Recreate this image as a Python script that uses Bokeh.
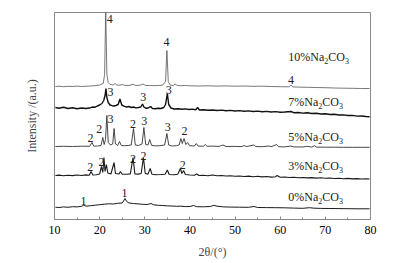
from bokeh.plotting import figure
from bokeh.models import (ColumnDataSource, Label, Range1d, SingleIntervalTicker,
                          FixedTicker)
from bokeh.core.properties import value
from bokeh.embed import file_html
from bokeh.resources import INLINE

# ---------------- data (2theta in degrees, stacked intensity in a.u.) -------------
tt_10 = [10.2, 11, 12, 13, 14, 15, 16, 17, 18, 19, 20, 20.8, 21.1, 21.35, 21.6, 21.9, 22.3,
         23.0, 23.4, 23.8, 24.5, 25, 25.5, 26.5, 27.4, 28, 29, 29.6, 30.2, 31, 32, 33, 34,
         34.6, 34.9, 35.2, 35.6, 36.3, 36.7, 37.2, 38, 39, 40, 42, 44, 46, 48, 50, 52, 54,
         56, 58, 60, 62, 62.4, 62.8, 64, 66, 68, 70, 72, 74, 76, 78, 79.8]
int_10 = [133, 133.3, 132.8, 133.2, 133, 133.4, 133, 133.3, 133.5, 133.8, 134.5, 136, 145, 210,
          145, 137, 135, 134.5, 136, 134.5, 134.3, 135, 134.2, 134, 135.2, 134, 134.3, 135.5,
          134, 134, 133.8, 134, 134.5, 138, 169, 138, 134.5, 134, 135.5, 134, 133.8, 134,
          133.7, 133.5, 133.7, 133.4, 133.6, 133.3, 133.5, 133.2, 133.3, 133.0, 132.8, 132.7,
          134.5, 132.6, 132.4, 132.2, 132, 131.8, 131.5, 131.3, 131.2, 131, 131]

tt_7 = [10.2, 11, 12, 13, 14, 15, 16, 17, 18, 18.5, 19, 19.5, 20, 20.5, 20.9, 21.2, 21.4, 21.6,
        21.9, 22.3, 22.8, 23.2, 23.6, 24.1, 24.5, 24.9, 25.5, 26, 26.5, 27, 27.5, 28, 28.6,
        29.1, 29.5, 29.8, 30.3, 30.9, 31.3, 31.7, 32.3, 33, 33.6, 34.2, 34.6, 35.0, 35.3,
        35.8, 36.5, 37.5, 38.3, 39, 39.8, 40.5, 41.3, 41.7, 42.1, 43, 44, 45, 46, 47, 48, 49,
        50, 51, 52, 53, 54, 55, 56, 57, 58, 59, 60, 61, 62.4, 63, 64, 65, 66, 67, 68, 69, 70,
        71, 72, 73, 74, 75, 76, 77, 78, 79, 79.8]
int_7 = [112, 111.3, 112.2, 111, 111.8, 110.8, 111.5, 111, 111.8, 112.5, 112.3, 113.5, 114.5,
         116, 119, 124, 131, 122, 117, 114.5, 113.8, 113.5, 114, 115, 120.5, 114.5, 113.2,
         112.5, 113, 112, 112.5, 111.6, 112, 112.5, 115.5, 112.5, 111.2, 111.8, 113, 111,
         110.8, 111.2, 111, 112, 115, 126, 115, 111.5, 110.5, 110.8, 110.2, 110.6, 110,
         110.4, 109.8, 112, 109.5, 109.8, 109.2, 109.5, 109, 109.4, 108.8, 109.1, 108.5,
         108.9, 108.2, 108.6, 108, 108.4, 107.8, 108.1, 107.5, 107.9, 107.2, 107.5, 108,
         106.8, 107, 106.4, 106.7, 106, 106.2, 105.5, 105.7, 105, 105.2, 104.5, 104.6, 104,
         104.1, 103.4, 103.5, 103, 102.8]

tt_5 = [10.2, 12, 14, 16, 17.8, 18.3, 18.7, 19.5, 20.3, 20.7, 21.0, 21.3, 21.6, 21.9, 22.4,
        22.9, 23.2, 23.5, 24.0, 24.4, 24.8, 25.5, 26.3, 27.0, 27.5, 27.9, 28.6, 29.4, 29.8,
        30.2, 30.7, 31.1, 31.5, 32.3, 33.3, 34.4, 34.9, 35.3, 36, 37.0, 37.6, 38.0, 38.3,
        38.7, 39.1, 39.5, 39.9, 41, 41.4, 41.8, 43, 43.4, 43.8, 45, 46.5, 47.3, 48, 50, 51.5,
        52, 52.5, 54.2, 54.6, 56, 57.5, 58, 59.2, 59.6, 61, 62.3, 63, 65, 66, 67, 67.6, 68,
        70, 72, 74, 76, 78, 79.8]
int_5 = [73, 73.2, 73, 73.3, 73.2, 77, 73.3, 73.5, 74, 82, 75, 80, 104, 77, 74.5, 75.5, 91,
         75.5, 74, 78, 74, 73.8, 74, 74.5, 91, 74.5, 74, 75.5, 92, 75, 74.5, 80, 74.2, 73.6,
         73.8, 74.5, 86, 74.5, 73.5, 73.8, 74.5, 81, 76, 81, 75, 77, 73.8, 73.5, 76, 73.4,
         73.3, 75, 73.2, 73.4, 73.1, 74.5, 73, 73.1, 72.9, 74, 73, 74.5, 73, 72.8, 73.5, 72.8,
         75, 72.8, 72.6, 73.5, 72.6, 72.5, 73.2, 72.4, 73.8, 72.4, 72.3, 72.3, 72.2, 72.2,
         72.2, 72.2]

tt_3 = [10.2, 11, 12, 13, 14, 15, 16, 17, 17.7, 18.1, 18.5, 19.3, 20.0, 20.4, 20.7, 20.95,
        21.2, 21.5, 21.8, 22.5, 23.2, 23.5, 24.3, 24.6, 25, 26, 26.8, 27.4, 27.8, 28.6, 29.2,
        29.7, 30.1, 30.7, 31.2, 31.6, 32.5, 33.5, 34.5, 35.0, 35.4, 36.5, 37.3, 37.9, 38.2,
        38.6, 39.0, 40, 41, 41.5, 42, 43, 44, 45, 46, 47, 48, 49, 50, 51, 52, 53, 54, 55, 56,
        57, 58, 59, 59.3, 60, 61, 62, 63, 64, 65, 66, 67, 68, 69, 70, 71, 72, 73, 74, 75, 76,
        77, 78, 79, 79.8]
int_3 = [44, 44.4, 43.8, 44.3, 43.9, 44.5, 44, 44.6, 44.2, 48, 44.5, 44.8, 45.5, 53, 47, 62,
         48, 55, 46.5, 45.5, 57, 46, 45.5, 48, 45.3, 45.2, 45.6, 62, 45.6, 45.4, 46, 62, 46,
         45.4, 51, 45.2, 44.8, 45, 45.3, 49.5, 45, 44.8, 45.2, 51, 46, 49, 45, 44.5, 44.3,
         45.5, 44, 44.2, 43.8, 44.5, 43.7, 44, 43.5, 43.8, 43.2, 43.5, 43, 43.4, 42.8, 43.2,
         42.6, 43, 42.4, 42.8, 44, 42.2, 42.5, 42, 42.3, 41.8, 42, 41.6, 41.9, 41.4, 41.7,
         41.2, 41.5, 41, 41.3, 40.8, 41.1, 40.6, 40.9, 40.5, 40.7, 40.5]

tt_0 = [10.2, 11, 12, 13, 14, 15, 16, 16.5, 17, 18, 19, 20, 21, 22, 23, 24, 25, 25.3, 25.6,
        26, 26.5, 27.5, 28.5, 29.5, 30.5, 31.4, 32, 33, 34, 35, 36, 37, 38, 39, 40, 40.8,
        41.5, 43, 44.5, 45.3, 46, 47.5, 49, 51, 53, 54.2, 55, 57, 59, 61, 63, 65, 66.5, 67.5,
        69, 71, 73, 75, 77, 79.8]
int_0 = [12.3, 12, 12.6, 12.2, 12.8, 12.6, 13.2, 14.5, 13.3, 13.8, 14.3, 14.8, 15.3, 15.7,
         15.5, 16.2, 16.5, 18.5, 21, 18, 16.5, 16, 15.6, 15.2, 15, 16, 14.6, 14.2, 14, 13.6,
         13.5, 13.2, 13.3, 12.9, 13, 14, 12.8, 12.7, 13, 14.2, 13.3, 12.6, 12.4, 12.3, 12.2,
         13, 12, 11.9, 11.8, 11.7, 11.4, 11.2, 11.8, 11.3, 11.1, 11, 10.9, 10.8, 10.7, 10.7]

# phase marker labels
peak_text = ["4", "4", "4",
             "3", "3", "3",
             "2", "2", "3", "2", "3", "3", "2",
             "2", "2", "2", "2", "2",
             "1", "1"]
peak_tt = [22.25, 34.8, 62.4,
           22.4, 29.65, 35.3,
           18.0, 19.9, 22.4, 27.4, 29.9, 35.1, 38.8,
           17.9, 20.4, 27.4, 29.7, 38.4,
           16.4, 25.5]
peak_int = [200.7, 177.3, 139.7,
            127.3, 122.3, 129.7,
            81.7, 90.7, 100.7, 95.7, 99, 93, 88.3,
            53, 58, 61, 64, 55,
            19, 27]

sample_pct = ["10%", "7%", "5%", "3%", "0%"]
sample_y = [162.3, 117.3, 82.3, 54, 22.3]

x_ticks_interval = 10

# ---------------- figure ----------------
FONT = "Liberation Serif"
GRAY = "#8a8a8a"

p = figure(width=400, height=263, output_backend="svg", toolbar_location=None,
           x_range=Range1d(10, 80), y_range=Range1d(0, 207),
           min_border_left=54, min_border_right=30, min_border_top=12,
           min_border_bottom=44)
p.grid.visible = False
p.outline_line_color = GRAY
p.outline_line_width = 1
p.background_fill_color = "white"
p.border_fill_color = "white"

xa = p.xaxis[0]
xa.ticker = SingleIntervalTicker(interval=x_ticks_interval, num_minor_ticks=2)
xa.axis_line_color = GRAY
xa.major_tick_line_color = GRAY
xa.minor_tick_line_color = GRAY
xa.major_tick_in = 3
xa.major_tick_out = 0
xa.minor_tick_in = 2
xa.minor_tick_out = 0
xa.major_label_standoff = 6
xa.major_label_text_font = FONT
xa.major_label_text_font_size = "12px"
xa.major_label_text_color = "black"
xa.axis_label = "2θ/(°)"
xa.axis_label_text_font = FONT
xa.axis_label_text_font_size = "12px"
xa.axis_label_text_font_style = "normal"
xa.axis_label_standoff = 8

ya = p.yaxis[0]
ya.ticker = FixedTicker(ticks=[])
ya.axis_line_color = GRAY
ya.major_tick_line_color = None
ya.minor_tick_line_color = None
ya.major_label_text_font_size = "0px"
ya.axis_label = "Intensity /(a.u.)"
ya.axis_label_text_font = FONT
ya.axis_label_text_font_size = "12px"
ya.axis_label_text_font_style = "normal"
ya.axis_label_standoff = 16

p.line(tt_0, int_0, line_color="#1a1a1a", line_width=1.0)
p.line(tt_3, int_3, line_color="#1a1a1a", line_width=1.1)
p.line(tt_5, int_5, line_color="#333333", line_width=0.9)
p.line(tt_7, int_7, line_color="#111111", line_width=1.4)
p.line(tt_10, int_10, line_color="#555555", line_width=0.8)

src = ColumnDataSource(dict(x=peak_tt, y=peak_int, t=peak_text))
p.text(x="x", y="y", text="t", source=src, text_align="center", text_baseline="middle",
       text_font=value(FONT), text_font_size="12px", text_color="#222222")

# sample labels with subscripts
for pct, yv in zip(sample_pct, sample_y):
    w = 6 * len(pct.replace("%", "")) + 10 + 8.67 + 5.33
    common = dict(x=61.8, y=yv, text_font=FONT, text_color="#222222",
                  text_baseline="middle")
    p.add_layout(Label(text=pct + "Na", text_font_size="12px", **common))
    p.add_layout(Label(text="2", text_font_size="8px", x_offset=w, y_offset=-4, **common))
    p.add_layout(Label(text="CO", text_font_size="12px", x_offset=w + 4, **common))
    p.add_layout(Label(text="3", text_font_size="8px", x_offset=w + 20.7, y_offset=-4,
                       **common))

open("out.html", "w").write(file_html(p, INLINE))
